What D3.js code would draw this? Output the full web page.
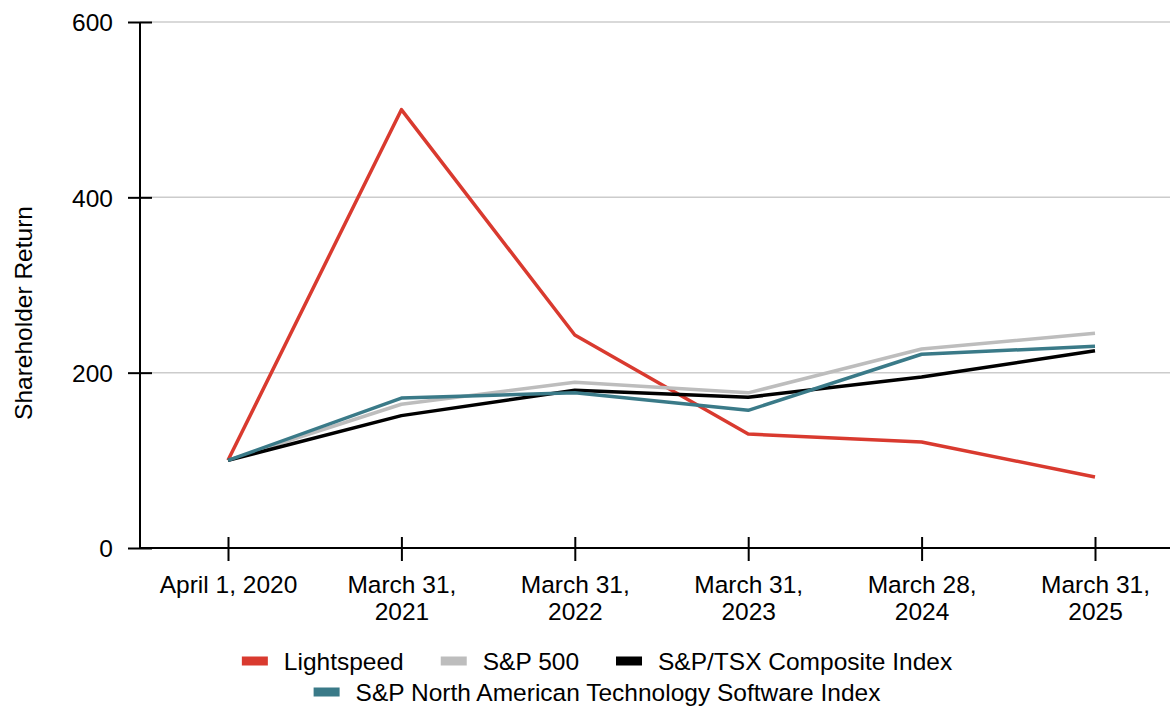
<!DOCTYPE html>
<html><head><meta charset="utf-8">
<script src="https://cdn.jsdelivr.net/npm/d3@7"></script>
<style>
html,body{margin:0;padding:0;background:#fff;}
svg{display:block;font-family:"Liberation Sans",Arial,Helvetica,sans-serif;}
</style></head>
<body>
<svg id="chart" width="1170" height="706"></svg>
<script>
const categories = ["April 1, 2020","March 31,\n2021","March 31,\n2022","March 31,\n2023","March 28,\n2024","March 31,\n2025"];
const lightspeed = [100, 500, 243, 130, 121, 81];
const sp500 = [100, 164, 189, 177, 227, 245];
const tsx = [100, 151, 180, 172, 195, 225];
const techSoftware = [100, 171, 177, 157, 221, 230];
const yTicks = [0, 200, 400, 600];
const seriesNames = ["Lightspeed","S&P 500","S&P/TSX Composite Index","S&P North American Technology Software Index"];
const seriesColors = ["#d93a2f","#bdbdbd","#000000","#3a7a88"];
const seriesValues = [lightspeed, sp500, tsx, techSoftware];

const FS = 24.5;
const svg = d3.select("#chart");
const mLeft = 140, mRight = 1170, mTop = 22, mBottom = 548;
const x = d3.scalePoint().domain(categories).range([228, 1095]);
const y = d3.scaleLinear().domain([0, 600]).range([mBottom, mTop]);

// grid
svg.append("g").selectAll("line").data(yTicks.filter(d => d > 0)).join("line")
  .attr("x1", mLeft).attr("x2", mRight).attr("y1", d => y(d)).attr("y2", d => y(d))
  .attr("stroke", "#cccccc").attr("stroke-width", 1.5);

// y axis
const yAxis = svg.append("g").attr("transform", `translate(${mLeft},0)`)
  .call(d3.axisLeft(y).tickValues(yTicks).tickSize(12).tickPadding(15));
yAxis.select(".domain").remove();
yAxis.append("line").attr("x1",0).attr("x2",0).attr("y1",mTop).attr("y2",mBottom).attr("stroke","#000").attr("stroke-width",2);
yAxis.selectAll(".tick line").attr("x2", -12).attr("x1", 12).attr("stroke-width", 2);
yAxis.selectAll(".tick text").attr("font-size", FS).attr("fill", "#000").attr("font-family","Liberation Sans, Arial, sans-serif").attr("dy","0.36em");

// x axis
const xAxis = svg.append("g").attr("transform", `translate(0,${mBottom})`)
  .call(d3.axisBottom(x).tickSize(12).tickFormat(""));
xAxis.select(".domain").remove();
xAxis.append("line").attr("x1",mLeft).attr("x2",mRight).attr("y1",0).attr("y2",0).attr("stroke","#000").attr("stroke-width",2);
xAxis.selectAll(".tick line").attr("y1",-11).attr("y2",13).attr("stroke-width",2);
xAxis.selectAll(".tick").each(function(d){
  const lines = d.split("\n");
  const t = d3.select(this).append("text").attr("text-anchor","middle").attr("font-size",FS).attr("fill","#000");
  lines.forEach((ln,i)=>t.append("tspan").attr("x",0).attr("y",45 + i*27).text(ln));
});

// y label
svg.append("text").attr("transform","translate(32,313) rotate(-90)")
  .attr("text-anchor","middle").attr("font-size",FS).attr("fill","#000").text("Shareholder Return");

// lines
const line = d3.line().x((d,i)=>x(categories[i])).y(d=>y(d));
seriesValues.forEach((vals, k) => {
  svg.append("path").datum(vals).attr("d", line)
    .attr("fill","none").attr("stroke", seriesColors[k]).attr("stroke-width", 3.5)
    .attr("stroke-linejoin","round");
});

// legend
const legendRows = [[0,1,2],[3]];
const legendY = [661, 692];
legendRows.forEach((row, r) => {
  const g = svg.append("g");
  let cx = 0;
  row.forEach(k => {
    const item = g.append("g").attr("transform", `translate(${cx},0)`);
    item.append("rect").attr("x",0).attr("y",-4.5).attr("width",26).attr("height",9).attr("fill",seriesColors[k]);
    const t = item.append("text").attr("x",42).attr("dy","0.36em").attr("font-size",FS).attr("fill","#000").text(seriesNames[k]);
    cx += 42 + t.node().getComputedTextLength() + 37;
  });
  const w = cx - 37;
  g.attr("transform", `translate(${597 - w/2},${legendY[r]})`);
});
</script>
</body></html>
